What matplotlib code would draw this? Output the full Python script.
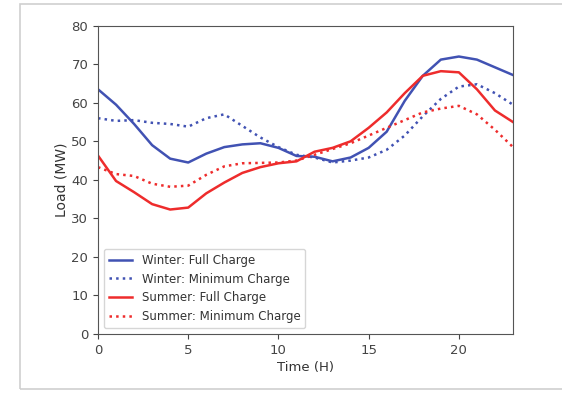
import matplotlib
matplotlib.use("Agg")
import matplotlib.pyplot as plt
from matplotlib.patches import Rectangle

# hourly load profiles
hours = list(range(24))
winter_full = [63.5, 59.5, 54.5, 49.0, 45.5, 44.5, 46.8, 48.5, 49.2, 49.5, 48.3, 46.2,
               46.0, 44.8, 45.8, 48.3, 52.5, 60.5, 67.0, 71.2, 72.0, 71.2, 69.2, 67.2]
winter_min = [56.0, 55.3, 55.5, 54.8, 54.5, 53.8, 56.0, 57.0, 54.0, 51.0, 48.5, 46.5,
              45.8, 44.5, 45.0, 45.8, 47.8, 51.5, 56.5, 61.0, 64.2, 64.8, 62.5, 59.5]
summer_full = [46.3, 39.7, 36.8, 33.7, 32.3, 32.8, 36.5, 39.3, 41.8, 43.3, 44.3, 44.8,
               47.3, 48.3, 50.0, 53.5, 57.5, 62.5, 67.0, 68.2, 67.9, 63.5, 58.0, 55.0]
summer_min = [43.3, 41.5, 41.0, 39.0, 38.2, 38.5, 41.3, 43.5, 44.3, 44.4, 44.5, 45.0,
              46.5, 48.0, 49.5, 51.5, 53.5, 55.5, 57.5, 58.5, 59.2, 57.0, 53.0, 48.5]
labels = ["Winter: Full Charge", "Winter: Minimum Charge",
          "Summer: Full Charge", "Summer: Minimum Charge"]

blue = "#4152b3"
red = "#ee2c2c"

fig = plt.figure(figsize=(5.62, 3.93), dpi=100)
# light frame around the figure, like the screenshot
fig.patches.append(Rectangle((20 / 562, 4 / 393), 560 / 562, 385 / 393,
                             transform=fig.transFigure, fill=False,
                             edgecolor="#cfcfcf", linewidth=1.2))

ax = fig.add_axes([98 / 562, 1 - 334 / 393, (513 - 98) / 562, (334 - 25.7) / 393])
ax.plot(hours, winter_full, color=blue, lw=1.8, label=labels[0])
ax.plot(hours, winter_min, color=blue, lw=1.8, ls=":", label=labels[1])
ax.plot(hours, summer_full, color=red, lw=1.8, label=labels[2])
ax.plot(hours, summer_min, color=red, lw=1.8, ls=":", label=labels[3])

ax.set_xlim(0, 23)
ax.set_ylim(0, 80)
ax.set_xticks([0, 5, 10, 15, 20])
ax.set_xlabel("Time (H)", color="#333333", fontsize=9.5, labelpad=3)
ax.set_ylabel("Load (MW)", color="#333333", fontsize=10, labelpad=2)
for s in ax.spines.values():
    s.set_color("#555555")
ax.tick_params(colors="#444444", labelsize=9.5)
ax.legend(loc="lower left", labelcolor="#333333", fontsize=8.5)

fig.savefig("out.png", dpi=100)
